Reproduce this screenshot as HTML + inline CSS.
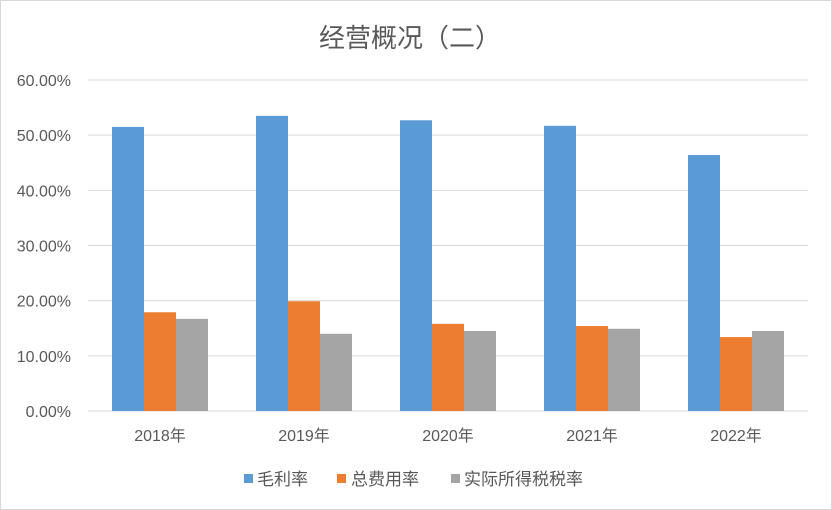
<!DOCTYPE html>
<html><head><meta charset="utf-8"><style>
body{margin:0;background:#fff;}
svg{display:block;font-family:"Liberation Sans","Noto Sans CJK SC",sans-serif;}
</style></head><body>
<svg id="chart" width="832" height="510">
<rect x="0.5" y="0.5" width="831" height="509" fill="#fff" stroke="#d9d9d9"/>
<text x="410" y="47" text-anchor="middle" font-size="26" fill="#595959">经营概况（二）</text>
<g id="grid"></g><g id="bars"></g><g id="axis"></g>
<g>
<rect x="244" y="474" width="9" height="9" fill="#5b9bd5"/>
<text x="257" y="485" font-size="17" fill="#595959">毛利率</text>
<rect x="337" y="474" width="9" height="9" fill="#ed7d31"/>
<text x="351" y="485" font-size="17" fill="#595959">总费用率</text>
<rect x="451" y="474" width="9" height="9" fill="#a5a5a5"/>
<text x="464" y="485" font-size="17" fill="#595959">实际所得税税率</text>
</g>
</svg>
<script>
const categories=["2018年","2019年","2020年","2021年","2022年"];
const grossMargin=[51.5,53.5,52.7,51.7,46.4];
const expenseRatio=[17.9,19.9,15.8,15.4,13.4];
const taxRate=[16.7,14.0,14.5,14.9,14.5];
const yTicks=[0,10,20,30,40,50,60];
const NS="http://www.w3.org/2000/svg";
const x0=88,x1=808,y0=411,yTop=80,yMax=60;
const y=v=>y0-(v/yMax)*(y0-yTop);
const bw=(x1-x0)/categories.length;
function mk(t,a,p){const e=document.createElementNS(NS,t);for(const k in a)e.setAttribute(k,a[k]);p.appendChild(e);return e;}
const grid=document.getElementById('grid'),bars=document.getElementById('bars'),axis=document.getElementById('axis');
yTicks.forEach(t=>{
 const l=mk('line',{x1:x0,x2:x1,y1:y(t),y2:y(t),stroke:'#d9d9d9','stroke-width':1},grid);
 
 
 const tx=mk('text',{x:71,y:y(t)+6,'text-anchor':'end','font-size':16,fill:'#595959'},axis);
 tx.textContent=t.toFixed(2)+'%';
 
 
});
const series=[[grossMargin,'#5b9bd5','gross-margin'],[expenseRatio,'#ed7d31','expense-ratio'],[taxRate,'#a5a5a5','tax-rate']];
categories.forEach((c,i)=>{
 const cx=x0+bw*(i+0.5);
 series.forEach((s,j)=>{
  const v=s[0][i];
  const r=mk('rect',{x:cx-48+j*32,y:y(v),width:32,height:y0-y(v),fill:s[1]},bars);
  
  
 });
 const tx=mk('text',{x:cx,y:y0+30,'text-anchor':'middle','font-size':16,fill:'#595959'},axis);
 tx.textContent=c;
 
 
});
</script>
</body></html>
